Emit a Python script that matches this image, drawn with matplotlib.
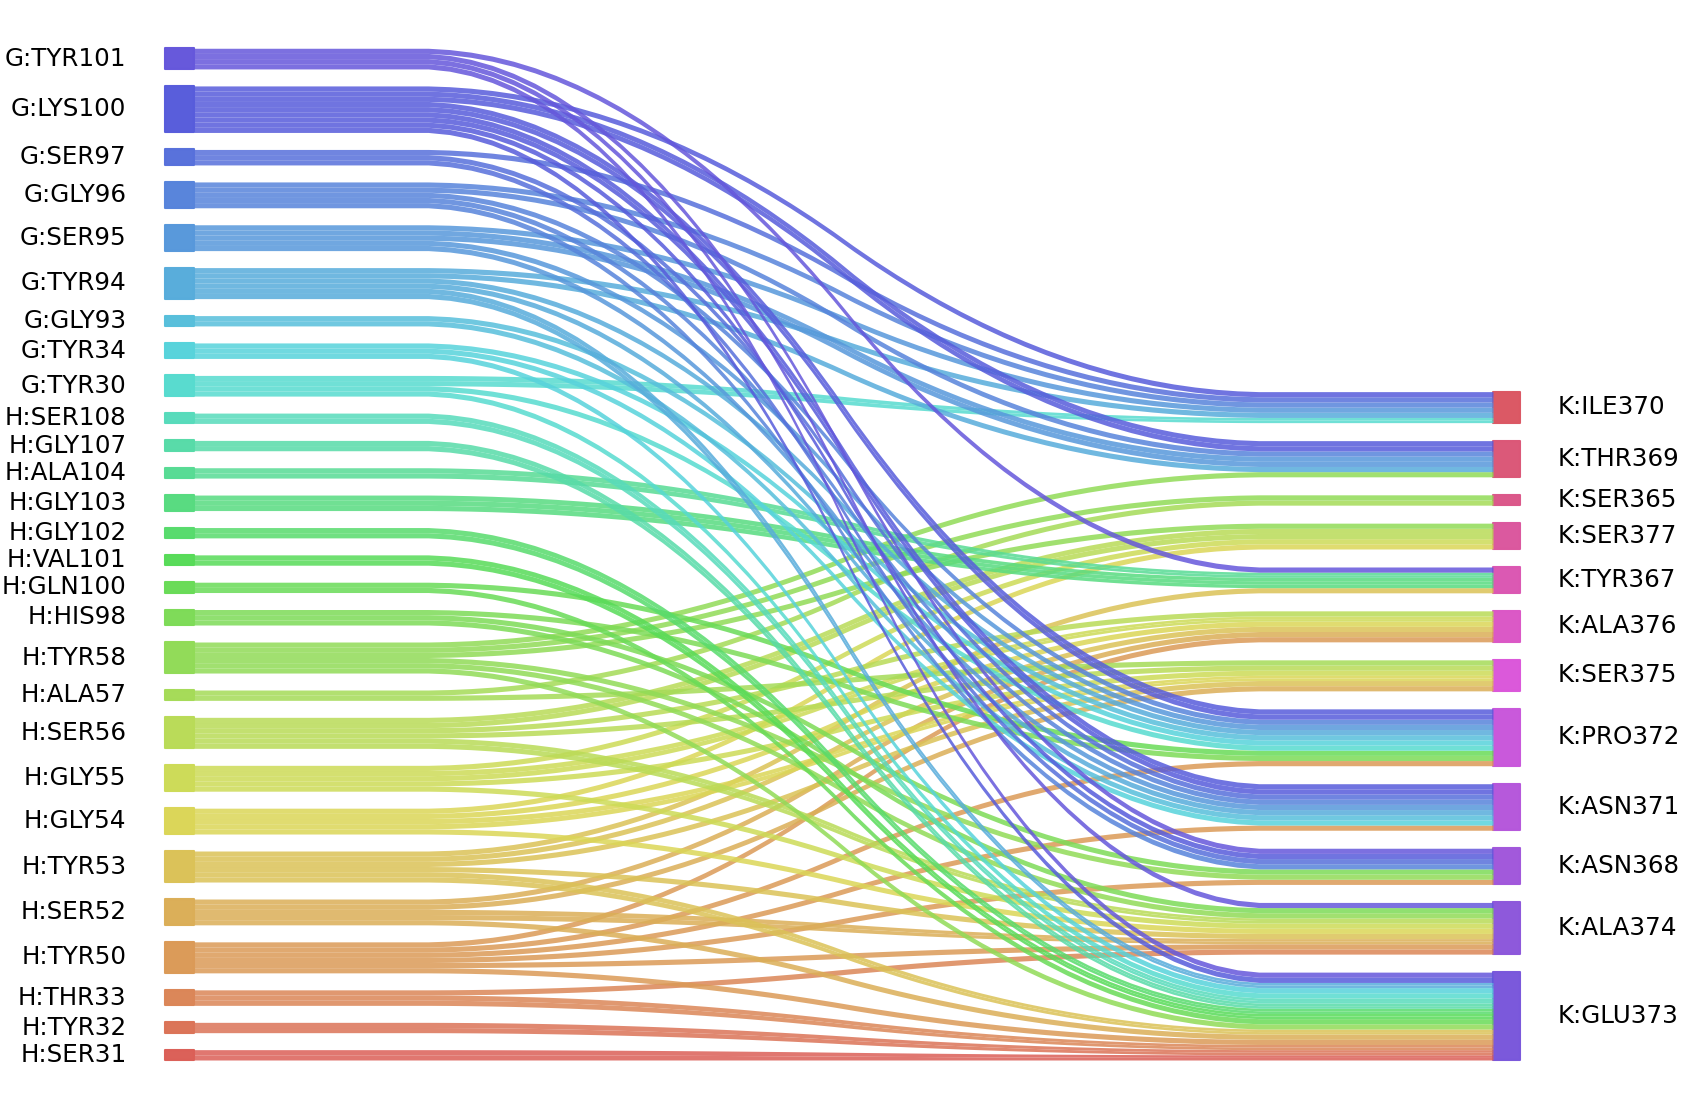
import colorsys
import numpy as np
import matplotlib
matplotlib.use("Agg")
from matplotlib import pyplot as plt

# nodes, listed bottom -> top
left_labels = ["H:SER31", "H:TYR32", "H:THR33", "H:TYR50", "H:SER52", "H:TYR53",
               "H:GLY54", "H:GLY55", "H:SER56", "H:ALA57", "H:TYR58", "H:HIS98",
               "H:GLN100", "H:VAL101", "H:GLY102", "H:GLY103", "H:ALA104", "H:GLY107",
               "H:SER108", "G:TYR30", "G:TYR34", "G:GLY93", "G:TYR94", "G:SER95",
               "G:GLY96", "G:SER97", "G:LYS100", "G:TYR101"]
right_labels = ["K:GLU373", "K:ALA374", "K:ASN368", "K:ASN371", "K:PRO372", "K:SER375",
                "K:ALA376", "K:TYR367", "K:SER377", "K:SER365", "K:THR369", "K:ILE370"]

# links: source, target, weight on the left side, weight on the right side
link_src = ["G:TYR101"] * 4 + ["G:LYS100"] * 6 + ["G:SER97"] * 3 + ["G:GLY96"] * 5 \
    + ["G:SER95"] * 4 + ["G:TYR94"] * 5 + ["G:GLY93"] * 2 + ["G:TYR34"] * 3 + ["G:TYR30"] * 3 \
    + ["H:SER108", "H:GLY107", "H:ALA104", "H:GLY103", "H:GLY102", "H:VAL101"] \
    + ["H:GLN100"] * 2 + ["H:HIS98"] * 3 + ["H:TYR58"] * 6 + ["H:ALA57"] * 2 \
    + ["H:SER56"] * 4 + ["H:GLY55"] * 4 + ["H:GLY54"] * 4 + ["H:TYR53"] * 5 \
    + ["H:SER52"] * 4 + ["H:TYR50"] * 6 + ["H:THR33"] * 2 + ["H:TYR32", "H:SER31"]
link_dst = ["K:TYR367", "K:ASN368", "K:ALA374", "K:GLU373",
            "K:ILE370", "K:THR369", "K:PRO372", "K:ASN371", "K:ASN368", "K:GLU373",
            "K:ILE370", "K:ASN371", "K:ASN368",
            "K:ILE370", "K:THR369", "K:PRO372", "K:ASN371", "K:ASN368",
            "K:ILE370", "K:THR369", "K:PRO372", "K:ASN371",
            "K:ILE370", "K:THR369", "K:PRO372", "K:ASN371", "K:GLU373",
            "K:PRO372", "K:ASN371",
            "K:PRO372", "K:ASN371", "K:GLU373",
            "K:ILE370", "K:PRO372", "K:GLU373",
            "K:GLU373", "K:GLU373", "K:TYR367", "K:TYR367", "K:GLU373", "K:GLU373",
            "K:PRO372", "K:GLU373",
            "K:PRO372", "K:ASN368", "K:ALA374",
            "K:THR369", "K:SER365", "K:SER377", "K:ASN368", "K:ALA374", "K:GLU373",
            "K:SER365", "K:SER375",
            "K:SER377", "K:ALA376", "K:SER375", "K:ALA374",
            "K:SER377", "K:ALA376", "K:SER375", "K:ALA374",
            "K:SER377", "K:ALA376", "K:SER375", "K:ALA374",
            "K:TYR367", "K:ALA376", "K:SER375", "K:ALA374", "K:GLU373",
            "K:ALA376", "K:SER375", "K:ALA374", "K:GLU373",
            "K:ALA376", "K:PRO372", "K:ASN371", "K:ASN368", "K:ALA374", "K:GLU373",
            "K:ALA374", "K:GLU373",
            "K:GLU373", "K:GLU373"]
link_wl = [1, 1, 1, 1,
           1, 2, 2, 2, 1, 1,
           1, 1, 1,
           1, 1, 1, 1, 1,
           1, 2, 1, 1,
           1, 1, 1, 1, 2,
           1, 1,
           1, 1, 1,
           2, 1, 1,
           2, 2, 2, 3, 2, 2,
           1, 1,
           1, 1, 1,
           1, 1, 1, 1, 1, 1,
           1, 1,
           2, 1, 1, 2,
           1, 2, 1, 1,
           1, 1, 2, 1,
           1, 1, 1, 1, 2,
           1, 1, 2, 1,
           1, 1, 1, 1, 1, 1,
           1, 2,
           2, 2]
link_wr = [1, 1, 1, 1,
           1, 2, 2, 2, 1, 1,
           1, 1, 1,
           1, 1, 1, 1, 1,
           1, 2, 1, 1,
           1, 1, 1, 1, 1,
           1, 1,
           1, 1, 1,
           1, 1, 1,
           1, 1, 1, 2, 1, 1,
           1, 1,
           1, 1, 1,
           1, 1, 1, 1, 1, 1,
           1, 1,
           2, 1, 1, 1,
           1, 1, 1, 1,
           1, 1, 1, 1,
           1, 1, 1, 1, 1,
           1, 1, 1, 1,
           1, 1, 1, 1, 1, 1,
           1, 1,
           1, 1]

gap_left = 3.285
gap_right = 3.48
fontsize = 17.7


def curve(a, b):
    ys = np.array(50 * [a] + 50 * [b], dtype=float)
    ys = np.convolve(ys, 0.05 * np.ones(20), mode="valid")
    ys = np.convolve(ys, 0.05 * np.ones(20), mode="valid")
    return ys


all_labels = left_labels + right_labels
hues = np.linspace(0, 1, len(all_labels) + 1)[:-1] + 0.01
colors = {lab: colorsys.hls_to_rgb(h % 1, 0.6, 0.65) for lab, h in zip(all_labels, hues)}

left_tot = {lab: 0 for lab in left_labels}
right_tot = {lab: 0 for lab in right_labels}
for s, d, wl, wr in zip(link_src, link_dst, link_wl, link_wr):
    left_tot[s] += wl
    right_tot[d] += wr

left_bot = {}
y = 0
for lab in left_labels:
    left_bot[lab] = y
    y += left_tot[lab] + gap_left
right_bot = {}
y = 0
for lab in right_labels:
    right_bot[lab] = y
    y += right_tot[lab] + gap_right

fig = plt.figure(figsize=(16.82, 11.08), dpi=100)
ax = fig.add_axes([0, 0, 1, 1])
ax.set_xlim(-194 / 1299, 1488 / 1299)
ax.set_ylim(-48 / 5.17, 1060 / 5.17)
ax.axis("off")

# nodes and labels
for lab in left_labels:
    b, h = left_bot[lab], left_tot[lab]
    ax.fill_between([-0.022, 0], [b, b], [b + h, b + h], color=colors[lab],
                    alpha=0.99, linewidth=1.5, joinstyle="round")
    ax.text(-0.052, b + h / 2, lab, ha="right", va="center", fontsize=fontsize)
for lab in right_labels:
    b, h = right_bot[lab], right_tot[lab]
    ax.fill_between([1, 1.021], [b, b], [b + h, b + h], color=colors[lab],
                    alpha=0.99, linewidth=1.5, joinstyle="round")
    ax.text(1.05, b + h / 2, lab, ha="left", va="center", fontsize=fontsize)

# strands
lcur = dict(left_bot)
rcur = dict(right_bot)
xs = np.linspace(0, 1, 62)
for lab in left_labels:
    for rlab in right_labels:
        for s, d, wl, wr in zip(link_src, link_dst, link_wl, link_wr):
            if s != lab or d != rlab:
                continue
            step = wr / wl
            for k in range(wl):
                lo = curve(lcur[lab] + k, rcur[rlab] + k * step)
                hi = curve(lcur[lab] + k + 1, rcur[rlab] + (k + 1) * step)
                ax.fill_between(xs, lo, hi, color=colors[lab], alpha=0.85, linewidth=0)
            lcur[lab] += wl
            rcur[rlab] += wr

fig.savefig("out.png", dpi=100, facecolor="white")
